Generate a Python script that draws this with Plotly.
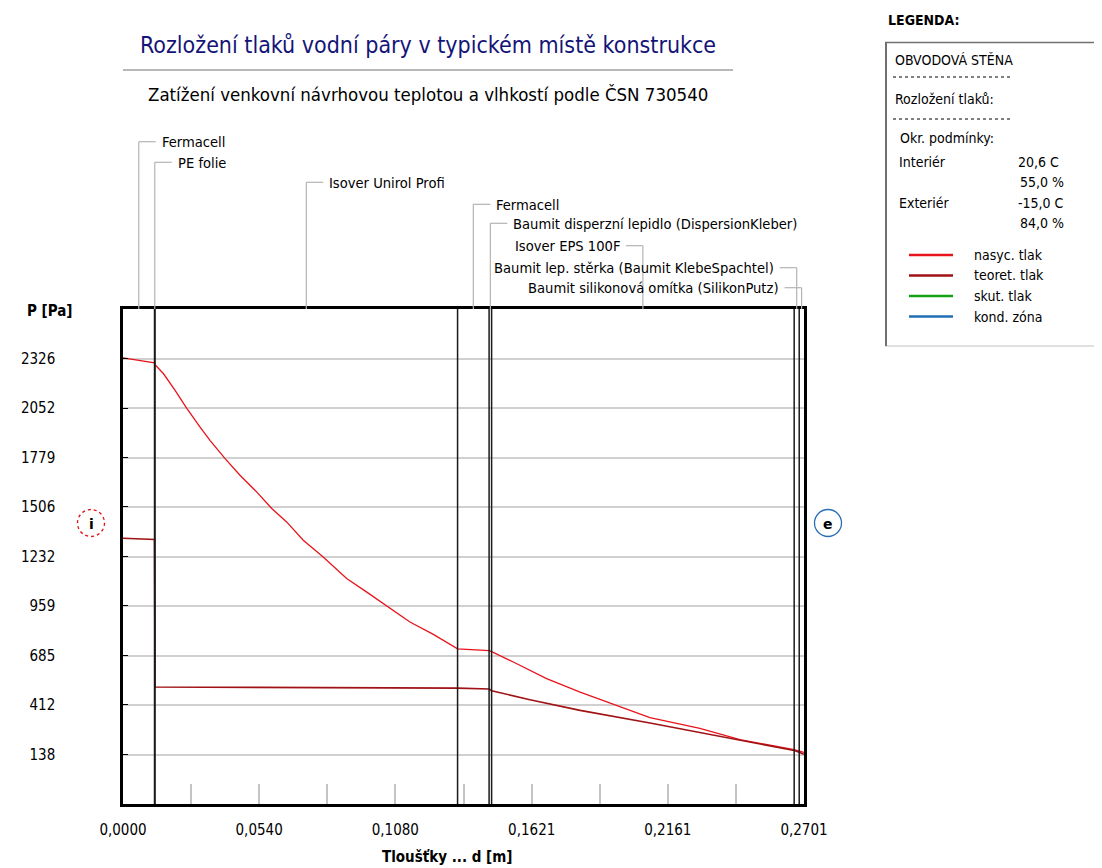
import plotly.graph_objects as go

# ---------------- data ----------------
layer_names = ["Fermacell", "PE folie", "Isover Unirol Profi", "Fermacell",
               "Baumit disperzní lepidlo (DispersionKleber)", "Isover EPS 100F",
               "Baumit lep. stěrka (Baumit KlebeSpachtel)",
               "Baumit silikonová omítka (SilikonPutz)"]
layer_thickness = [0.0125, 0.0002, 0.12, 0.0125, 0.001, 0.12, 0.002, 0.0019]

nasyc_x = [0, 0.0125, 0.0127, 0.0160, 0.0206, 0.0253, 0.0305, 0.0345, 0.0405, 0.0464,
           0.0530, 0.0590, 0.0649, 0.0715, 0.0794, 0.0887, 0.0967, 0.1046, 0.1138,
           0.1231, 0.1327, 0.1452, 0.1462, 0.1548, 0.1680, 0.1813, 0.1945, 0.2090,
           0.2288, 0.2447, 0.2662, 0.2682, 0.2701]
nasyc_p = [2330, 2302, 2292, 2243, 2151, 2050, 1948, 1874, 1773, 1681,
           1589, 1497, 1423, 1322, 1229, 1110, 1035, 957, 870,
           802, 722, 712, 706, 649, 557, 483, 415, 342,
           283, 220, 165, 158, 150]

teoret_x = [0, 0.0125, 0.0127, 0.0700, 0.1327, 0.1452, 0.1462, 0.1614, 0.1813,
            0.2090, 0.2662, 0.2682, 0.2701]
teoret_p = [1333, 1326, 511, 508, 505, 500, 490, 441, 382,
            312, 160, 150, 139]

series_names = ["nasyc. tlak", "teoret. tlak", "skut. tlak", "kond. zóna"]

y_tick_vals = [138, 412, 685, 959, 1232, 1506, 1779, 2052, 2326]
x_tick_vals = [0.0, 0.0540, 0.1080, 0.1621, 0.2161, 0.2701]

title_text = "Rozložení tlaků vodní páry v typickém místě konstrukce"
subtitle_text = "Zatížení venkovní návrhovou teplotou a vlhkostí podle ČSN 730540"
x_title = "Tloušťky ... d [m]"
y_title = "P [Pa]"
legend_header = "LEGENDA:"
legend_lines = ["OBVODOVÁ STĚNA", "Rozložení tlaků:", "Okr. podmínky:"]
cond_names = ["Interiér", "Exteriér"]
cond_temp = ["20,6 C", "-15,0 C"]
cond_rh = ["55,0 %", "84,0 %"]

# ---------------- styles ----------------
OFF = 8  # page body margin of the written html
W, H = 1102 - OFF, 868 - OFF
L, R, T, B = 123 - OFF, 804 - OFF, 309 - OFF, 804 - OFF
FONT = "Liberation Sans Narrow, Arial Narrow, DejaVu Sans Condensed, sans-serif"
C_NASYC = "#e8141c"
C_TEOR = "#a01214"
C_SKUT = "#14a014"
C_KOND = "#1f6fb5"
series_colors = [C_NASYC, C_TEOR, C_SKUT, C_KOND]


def fx(px):
    return (px - OFF - L) / (R - L)


def fy(py):
    return (B - (py - OFF)) / (B - T)


x_max = sum(layer_thickness)
y_range = [-135.5, 2599.5]

fig = go.Figure()
fig.add_trace(go.Scatter(x=nasyc_x, y=nasyc_p, mode="lines", name=series_names[0],
                         line=dict(color=C_NASYC, width=1.3), showlegend=False))
fig.add_trace(go.Scatter(x=teoret_x, y=teoret_p, mode="lines", name=series_names[1],
                         line=dict(color=C_TEOR, width=1.6), showlegend=False))

shapes = []
ann = []

# layer boundaries
bounds = []
acc = 0.0
for t in layer_thickness[:-1]:
    acc += t
    bounds.append(acc)
for b in bounds:
    shapes.append(dict(type="line", xref="x", yref="paper", x0=b, x1=b, y0=0, y1=1,
                       line=dict(color="#1a1a1a", width=1.5), layer="above"))

# layer labels with leaders
label_py = [141.7, 162.3, 182.3, 204.3, 223.3, 245.7, 267.7, 287.7]
label_side = [1, 1, 1, 1, 1, -1, -1, -1]
GRAY = "#b4b4b4"
starts = [0.0] + bounds
for name, t, s, py, side in zip(layer_names, layer_thickness, starts, label_py, label_side):
    mid = s + t / 2
    shapes.append(dict(type="line", xref="x", yref="paper", x0=mid, x1=mid,
                       y0=1, y1=fy(py), line=dict(color=GRAY, width=1.2)))
    shapes.append(dict(type="line", xref="x", xsizemode="pixel", xanchor=mid,
                       x0=0, x1=17 * side, yref="paper", y0=fy(py), y1=fy(py),
                       line=dict(color=GRAY, width=1.2)))
    ann.append(dict(xref="x", yref="paper", x=mid, y=fy(py), xshift=21 * side,
                    text=name, showarrow=False,
                    xanchor="left" if side > 0 else "right", yanchor="middle",
                    font=dict(family=FONT, size=14.6, color="#000")))

# title block
ann.append(dict(xref="paper", yref="paper", x=fx(428), y=fy(45), text=title_text,
                showarrow=False, xanchor="center", yanchor="middle",
                font=dict(family=FONT, size=23, color="#141478")))
shapes.append(dict(type="line", xref="paper", yref="paper", x0=fx(123), x1=fx(733),
                   y0=fy(70), y1=fy(70), line=dict(color="#a0a0a0", width=1.5)))
ann.append(dict(xref="paper", yref="paper", x=fx(428), y=fy(94), text=subtitle_text,
                showarrow=False, xanchor="center", yanchor="middle",
                font=dict(family=FONT, size=18.5, color="#000")))

# axis titles
ann.append(dict(xref="paper", yref="paper", x=fx(25), y=fy(311), text="<b>" + y_title + "</b>",
                showarrow=False, xanchor="left", yanchor="middle",
                font=dict(family=FONT, size=15, color="#000")))
ann.append(dict(xref="paper", yref="paper", x=fx(447), y=fy(857), text="<b>" + x_title + "</b>",
                showarrow=False, xanchor="center", yanchor="middle",
                font=dict(family=FONT, size=15, color="#000")))

# i / e circles
for cx, col, dash, txt in [(91, "#e01010", "dot", "i"), (828, "#2a6fb5", "solid", "e")]:
    shapes.append(dict(type="circle", xref="paper", yref="paper",
                       x0=fx(cx - 13.5), x1=fx(cx + 13.5), y0=fy(523 + 13.5), y1=fy(523 - 13.5),
                       line=dict(color=col, width=1.3, dash=dash)))
    ann.append(dict(xref="paper", yref="paper", x=fx(cx), y=fy(524), text="<b>" + txt + "</b>",
                    showarrow=False, xanchor="center", yanchor="middle",
                    font=dict(family="DejaVu Sans, sans-serif", size=14, color="#000")))

# legend panel (box runs off the right edge)
ann.append(dict(xref="paper", yref="paper", x=fx(886), y=fy(20), text="<b>" + legend_header + "</b>",
                showarrow=False, xanchor="left", yanchor="middle",
                font=dict(family=FONT, size=14, color="#000")))
shapes.append(dict(type="line", xref="paper", yref="paper", x0=fx(885), x1=fx(1140),
                   y0=fy(346), y1=fy(346), line=dict(color="#c0c0c0", width=1)))
shapes.append(dict(type="line", xref="paper", yref="paper", x0=fx(886), x1=fx(886),
                   y0=fy(346), y1=fy(42), line=dict(color="#707070", width=2)))
shapes.append(dict(type="line", xref="paper", yref="paper", x0=fx(885), x1=fx(1140),
                   y0=fy(42.5), y1=fy(42.5), line=dict(color="#707070", width=1.5)))
txt_font = dict(family=FONT, size=14, color="#000")
for txt, px, py in zip(legend_lines, [893, 893, 898], [60, 99, 138]):
    ann.append(dict(xref="paper", yref="paper", x=fx(px), y=fy(py), text=txt,
                    showarrow=False, xanchor="left", yanchor="middle", font=txt_font))
for py in [77, 119]:
    shapes.append(dict(type="line", xref="paper", yref="paper", x0=fx(893), x1=fx(1013),
                       y0=fy(py), y1=fy(py), line=dict(color="#000", width=1, dash="dot")))
for i, (nm, tp, rh) in enumerate(zip(cond_names, cond_temp, cond_rh)):
    base = 161.7 + i * 41.6
    ann.append(dict(xref="paper", yref="paper", x=fx(897), y=fy(base), text=nm,
                    showarrow=False, xanchor="left", yanchor="middle", font=txt_font))
    ann.append(dict(xref="paper", yref="paper", x=fx(1016), y=fy(base), text=tp,
                    showarrow=False, xanchor="left", yanchor="middle", font=txt_font))
    ann.append(dict(xref="paper", yref="paper", x=fx(1018), y=fy(base + 20), text=rh,
                    showarrow=False, xanchor="left", yanchor="middle", font=txt_font))
for i, (nm, col) in enumerate(zip(series_names, series_colors)):
    py = 255 + i * 20.5
    shapes.append(dict(type="line", xref="paper", yref="paper", x0=fx(909), x1=fx(953),
                       y0=fy(py), y1=fy(py), line=dict(color=col, width=2.5)))
    ann.append(dict(xref="paper", yref="paper", x=fx(972), y=fy(py), text=nm,
                    showarrow=False, xanchor="left", yanchor="middle", font=txt_font))

fig.update_layout(
    width=W, height=H,
    margin=dict(l=L, r=W - R, t=T, b=H - B, pad=0),
    paper_bgcolor="white", plot_bgcolor="white",
    shapes=shapes, annotations=ann, showlegend=False,
    xaxis=dict(range=[0, x_max], showgrid=False, zeroline=False,
               tickmode="array", tickvals=x_tick_vals,
               ticktext=[f"{v:.4f}".replace(".", ",") for v in x_tick_vals],
               ticks="inside", ticklen=20, tickcolor="#c4c4c4", tickwidth=1.5,
               minor=dict(tickvals=[x_max * k / 10 for k in range(1, 10)], ticks="inside",
                          ticklen=20, tickcolor="#c4c4c4", tickwidth=1.5),
               showline=True, mirror=True, linecolor="#000", linewidth=2.5,
               ticklabelstandoff=10,
               tickfont=dict(family=FONT, size=15, color="#000")),
    yaxis=dict(range=y_range, showgrid=True, gridcolor="#d0d0d0", gridwidth=2,
               zeroline=False, tickmode="array", tickvals=y_tick_vals,
               ticktext=[str(v) for v in y_tick_vals],
               ticks="inside", ticklen=5, tickcolor="#000", tickwidth=1,
               showline=True, mirror=True, linecolor="#000", linewidth=2.5,
               ticklabelstandoff=62,
               tickfont=dict(family=FONT, size=15, color="#000")),
)

fig.write_html("out.html")
